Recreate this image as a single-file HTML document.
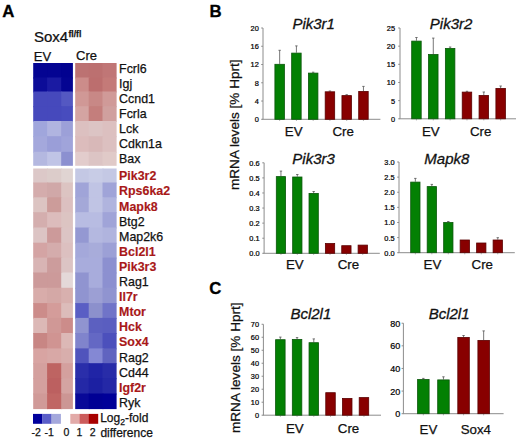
<!DOCTYPE html><html><head><meta charset="utf-8"><style>
html,body{margin:0;padding:0;background:#fff;width:520px;height:440px;overflow:hidden}
svg{display:block}
text{font-family:"Liberation Sans", sans-serif;fill:#111;stroke:#111;stroke-width:0.25px}
.tk{font-size:7.4px;text-anchor:end;fill:#000;stroke:#000;stroke-width:0.22px}
.gl{font-size:12.4px;fill:#111}
.gr{font-size:12.4px;font-weight:bold;fill:#a81818;stroke:#a81818;stroke-width:0.15px}
.ttl{font-size:15px;font-style:italic;stroke:#111;stroke-width:0.3px}
.cat{font-size:13.3px}
.pl{font-size:16.8px;font-weight:bold;fill:#000;stroke:#000;stroke-width:0.3px}
</style></head><body>
<svg width="520" height="440" viewBox="0 0 520 440">
<text x="2.2" y="16.8" class="pl">A</text>
<text x="209.6" y="16.6" class="pl">B</text>
<text x="209.3" y="294.2" class="pl">C</text>
<text transform="translate(33.9,41.6) scale(1.075,1)" style="font-size:14px">Sox4</text>
<text x="68.4" y="37.3" style="font-size:8.6px;font-weight:bold">fl/fl</text>
<text x="33.8" y="61.2" style="font-size:13px">EV</text>
<text x="76" y="60.3" style="font-size:13px">Cre</text>
<rect x="33.2" y="63" width="14.9" height="15.5" fill="#040492"/>
<rect x="47.1" y="63" width="15.1" height="15.5" fill="#040492"/>
<rect x="61.2" y="63" width="11.7" height="15.5" fill="#020290"/>
<rect x="75.2" y="63" width="14.5" height="15.5" fill="#bc7272"/>
<rect x="88.7" y="63" width="14.8" height="15.5" fill="#bc7070"/>
<rect x="102.5" y="63" width="14.1" height="15.5" fill="#c07676"/>
<rect x="33.2" y="77.5" width="14.9" height="15" fill="#0c0c98"/>
<rect x="47.1" y="77.5" width="15.1" height="15" fill="#1a1aa2"/>
<rect x="61.2" y="77.5" width="11.7" height="15" fill="#040492"/>
<rect x="75.2" y="77.5" width="14.5" height="15" fill="#cc8c8a"/>
<rect x="88.7" y="77.5" width="14.8" height="15" fill="#bc6e6e"/>
<rect x="102.5" y="77.5" width="14.1" height="15" fill="#c47a78"/>
<rect x="33.2" y="91.5" width="14.9" height="15.7" fill="#4649bc"/>
<rect x="47.1" y="91.5" width="15.1" height="15.7" fill="#4649bc"/>
<rect x="61.2" y="91.5" width="11.7" height="15.7" fill="#5458c2"/>
<rect x="75.2" y="91.5" width="14.5" height="15.7" fill="#d09896"/>
<rect x="88.7" y="91.5" width="14.8" height="15.7" fill="#c88886"/>
<rect x="102.5" y="91.5" width="14.1" height="15.7" fill="#d09a98"/>
<rect x="33.2" y="106.2" width="14.9" height="15.8" fill="#4649bc"/>
<rect x="47.1" y="106.2" width="15.1" height="15.8" fill="#4649bc"/>
<rect x="61.2" y="106.2" width="11.7" height="15.8" fill="#484cbe"/>
<rect x="75.2" y="106.2" width="14.5" height="15.8" fill="#d4a4a2"/>
<rect x="88.7" y="106.2" width="14.8" height="15.8" fill="#c47e7c"/>
<rect x="102.5" y="106.2" width="14.1" height="15.8" fill="#d0a09e"/>
<rect x="33.2" y="121" width="14.9" height="16.2" fill="#a0a6dc"/>
<rect x="47.1" y="121" width="15.1" height="16.2" fill="#b0b4e0"/>
<rect x="61.2" y="121" width="11.7" height="16.2" fill="#9ca0d8"/>
<rect x="75.2" y="121" width="14.5" height="16.2" fill="#dcc0c0"/>
<rect x="88.7" y="121" width="14.8" height="16.2" fill="#dcc4c4"/>
<rect x="102.5" y="121" width="14.1" height="16.2" fill="#dcc0c0"/>
<rect x="33.2" y="136.2" width="14.9" height="16.6" fill="#a4a8dc"/>
<rect x="47.1" y="136.2" width="15.1" height="16.6" fill="#9a9ed8"/>
<rect x="61.2" y="136.2" width="11.7" height="16.6" fill="#a0a4da"/>
<rect x="75.2" y="136.2" width="14.5" height="16.6" fill="#dcbcbc"/>
<rect x="88.7" y="136.2" width="14.8" height="16.6" fill="#d8b8b8"/>
<rect x="102.5" y="136.2" width="14.1" height="16.6" fill="#dcc0c0"/>
<rect x="33.2" y="151.8" width="14.9" height="14" fill="#b4b8e0"/>
<rect x="47.1" y="151.8" width="15.1" height="14" fill="#c0c4e6"/>
<rect x="61.2" y="151.8" width="11.7" height="14" fill="#8c90d0"/>
<rect x="75.2" y="151.8" width="14.5" height="14" fill="#e2cccc"/>
<rect x="88.7" y="151.8" width="14.8" height="14" fill="#dcc4c4"/>
<rect x="102.5" y="151.8" width="14.1" height="14" fill="#e0cac8"/>
<rect x="33.2" y="168.5" width="14.9" height="15" fill="#dcc8c8"/>
<rect x="47.1" y="168.5" width="15.1" height="15" fill="#dcccca"/>
<rect x="61.2" y="168.5" width="11.7" height="15" fill="#e0d4d2"/>
<rect x="75.2" y="168.5" width="14.5" height="15" fill="#c4c8e4"/>
<rect x="88.7" y="168.5" width="14.8" height="15" fill="#c8cce6"/>
<rect x="102.5" y="168.5" width="14.1" height="15" fill="#c4c8e4"/>
<rect x="33.2" y="182.5" width="14.9" height="15.8" fill="#d4acac"/>
<rect x="47.1" y="182.5" width="15.1" height="15.8" fill="#d0a8a8"/>
<rect x="61.2" y="182.5" width="11.7" height="15.8" fill="#dcc4c2"/>
<rect x="75.2" y="182.5" width="14.5" height="15.8" fill="#a0a4d8"/>
<rect x="88.7" y="182.5" width="14.8" height="15.8" fill="#c0c4e4"/>
<rect x="102.5" y="182.5" width="14.1" height="15.8" fill="#a0a4d8"/>
<rect x="33.2" y="197.3" width="14.9" height="15.9" fill="#dcc4c2"/>
<rect x="47.1" y="197.3" width="15.1" height="15.9" fill="#cc9c9a"/>
<rect x="61.2" y="197.3" width="11.7" height="15.9" fill="#dcc0c0"/>
<rect x="75.2" y="197.3" width="14.5" height="15.9" fill="#a4a8d8"/>
<rect x="88.7" y="197.3" width="14.8" height="15.9" fill="#c0c4e4"/>
<rect x="102.5" y="197.3" width="14.1" height="15.9" fill="#b0b4de"/>
<rect x="33.2" y="212.2" width="14.9" height="16.3" fill="#d4aeae"/>
<rect x="47.1" y="212.2" width="15.1" height="16.3" fill="#dcbcbc"/>
<rect x="61.2" y="212.2" width="11.7" height="16.3" fill="#dcc4c2"/>
<rect x="75.2" y="212.2" width="14.5" height="16.3" fill="#b8bce2"/>
<rect x="88.7" y="212.2" width="14.8" height="16.3" fill="#b8bce2"/>
<rect x="102.5" y="212.2" width="14.1" height="16.3" fill="#a0a4d8"/>
<rect x="33.2" y="227.5" width="14.9" height="16.2" fill="#dcc4c4"/>
<rect x="47.1" y="227.5" width="15.1" height="16.2" fill="#cc9a9a"/>
<rect x="61.2" y="227.5" width="11.7" height="16.2" fill="#dcc4c4"/>
<rect x="75.2" y="227.5" width="14.5" height="16.2" fill="#9498d2"/>
<rect x="88.7" y="227.5" width="14.8" height="16.2" fill="#b4b8e0"/>
<rect x="102.5" y="227.5" width="14.1" height="16.2" fill="#b0b4de"/>
<rect x="33.2" y="242.7" width="14.9" height="15.9" fill="#d4a4a4"/>
<rect x="47.1" y="242.7" width="15.1" height="15.9" fill="#d4acac"/>
<rect x="61.2" y="242.7" width="11.7" height="15.9" fill="#dcc0c0"/>
<rect x="75.2" y="242.7" width="14.5" height="15.9" fill="#a4a8da"/>
<rect x="88.7" y="242.7" width="14.8" height="15.9" fill="#a8acda"/>
<rect x="102.5" y="242.7" width="14.1" height="15.9" fill="#9ca0d6"/>
<rect x="33.2" y="257.6" width="14.9" height="15.9" fill="#d8b4b4"/>
<rect x="47.1" y="257.6" width="15.1" height="15.9" fill="#cc9c9c"/>
<rect x="61.2" y="257.6" width="11.7" height="15.9" fill="#dcc4c4"/>
<rect x="75.2" y="257.6" width="14.5" height="15.9" fill="#a8acdc"/>
<rect x="88.7" y="257.6" width="14.8" height="15.9" fill="#a8acdc"/>
<rect x="102.5" y="257.6" width="14.1" height="15.9" fill="#8c90d0"/>
<rect x="33.2" y="272.5" width="14.9" height="16.3" fill="#cc9a9a"/>
<rect x="47.1" y="272.5" width="15.1" height="16.3" fill="#cc9a9a"/>
<rect x="61.2" y="272.5" width="11.7" height="16.3" fill="#e4d8d8"/>
<rect x="75.2" y="272.5" width="14.5" height="16.3" fill="#9094d0"/>
<rect x="88.7" y="272.5" width="14.8" height="16.3" fill="#a8acdc"/>
<rect x="102.5" y="272.5" width="14.1" height="16.3" fill="#8c90d0"/>
<rect x="33.2" y="287.8" width="14.9" height="16.3" fill="#d8acaa"/>
<rect x="47.1" y="287.8" width="15.1" height="16.3" fill="#d4a8a6"/>
<rect x="61.2" y="287.8" width="11.7" height="16.3" fill="#d8b0ae"/>
<rect x="75.2" y="287.8" width="14.5" height="16.3" fill="#9094d0"/>
<rect x="88.7" y="287.8" width="14.8" height="16.3" fill="#9c9fd4"/>
<rect x="102.5" y="287.8" width="14.1" height="16.3" fill="#9094d0"/>
<rect x="33.2" y="303.1" width="14.9" height="15.8" fill="#cc8c8a"/>
<rect x="47.1" y="303.1" width="15.1" height="15.8" fill="#d49c9a"/>
<rect x="61.2" y="303.1" width="11.7" height="15.8" fill="#dcbcba"/>
<rect x="75.2" y="303.1" width="14.5" height="15.8" fill="#5a5ec4"/>
<rect x="88.7" y="303.1" width="14.8" height="15.8" fill="#8c90cc"/>
<rect x="102.5" y="303.1" width="14.1" height="15.8" fill="#7074c8"/>
<rect x="33.2" y="317.9" width="14.9" height="16.1" fill="#dcb8b6"/>
<rect x="47.1" y="317.9" width="15.1" height="16.1" fill="#d09896"/>
<rect x="61.2" y="317.9" width="11.7" height="16.1" fill="#cc8c8a"/>
<rect x="75.2" y="317.9" width="14.5" height="16.1" fill="#9094d0"/>
<rect x="88.7" y="317.9" width="14.8" height="16.1" fill="#5c60c0"/>
<rect x="102.5" y="317.9" width="14.1" height="16.1" fill="#5a5ec0"/>
<rect x="33.2" y="333" width="14.9" height="16.4" fill="#c88684"/>
<rect x="47.1" y="333" width="15.1" height="16.4" fill="#d09492"/>
<rect x="61.2" y="333" width="11.7" height="16.4" fill="#dcb8b6"/>
<rect x="75.2" y="333" width="14.5" height="16.4" fill="#8084cc"/>
<rect x="88.7" y="333" width="14.8" height="16.4" fill="#6468c4"/>
<rect x="102.5" y="333" width="14.1" height="16.4" fill="#4c50bc"/>
<rect x="33.2" y="348.4" width="14.9" height="15.8" fill="#d8a4a2"/>
<rect x="47.1" y="348.4" width="15.1" height="15.8" fill="#d8a8a6"/>
<rect x="61.2" y="348.4" width="11.7" height="15.8" fill="#d8aeac"/>
<rect x="75.2" y="348.4" width="14.5" height="15.8" fill="#5054bc"/>
<rect x="88.7" y="348.4" width="14.8" height="15.8" fill="#8488d4"/>
<rect x="102.5" y="348.4" width="14.1" height="15.8" fill="#6064c0"/>
<rect x="33.2" y="363.2" width="14.9" height="16" fill="#d4a09e"/>
<rect x="47.1" y="363.2" width="15.1" height="16" fill="#be6462"/>
<rect x="61.2" y="363.2" width="11.7" height="16" fill="#d4a09e"/>
<rect x="75.2" y="363.2" width="14.5" height="16" fill="#2a2eaa"/>
<rect x="88.7" y="363.2" width="14.8" height="16" fill="#2024a6"/>
<rect x="102.5" y="363.2" width="14.1" height="16" fill="#282ca8"/>
<rect x="33.2" y="378.2" width="14.9" height="16.3" fill="#d4a09e"/>
<rect x="47.1" y="378.2" width="15.1" height="16.3" fill="#bc6060"/>
<rect x="61.2" y="378.2" width="11.7" height="16.3" fill="#d4a4a2"/>
<rect x="75.2" y="378.2" width="14.5" height="16.3" fill="#2428a6"/>
<rect x="88.7" y="378.2" width="14.8" height="16.3" fill="#1c20a2"/>
<rect x="102.5" y="378.2" width="14.1" height="16.3" fill="#2428a6"/>
<rect x="33.2" y="393.5" width="14.9" height="15.6" fill="#d09a98"/>
<rect x="47.1" y="393.5" width="15.1" height="15.6" fill="#c06664"/>
<rect x="61.2" y="393.5" width="11.7" height="15.6" fill="#cc9694"/>
<rect x="75.2" y="393.5" width="14.5" height="15.6" fill="#080898"/>
<rect x="88.7" y="393.5" width="14.8" height="15.6" fill="#000094"/>
<rect x="102.5" y="393.5" width="14.1" height="15.6" fill="#000098"/>
<text x="119.1" y="72.7" class="gl">Fcrl6</text>
<text x="119.1" y="87.75" class="gl">Igj</text>
<text x="119.1" y="102.8" class="gl">Ccnd1</text>
<text x="119.1" y="117.85" class="gl">Fcrla</text>
<text x="119.1" y="132.9" class="gl">Lck</text>
<text x="119.1" y="147.95" class="gl">Cdkn1a</text>
<text x="119.1" y="163" class="gl">Bax</text>
<text x="119.1" y="180.3" class="gr">Pik3r2</text>
<text x="119.1" y="195.4" class="gr">Rps6ka2</text>
<text x="119.1" y="210.5" class="gr">Mapk8</text>
<text x="119.1" y="225.6" class="gl">Btg2</text>
<text x="119.1" y="240.7" class="gl">Map2k6</text>
<text x="119.1" y="255.8" class="gr">Bcl2l1</text>
<text x="119.1" y="270.9" class="gr">Pik3r3</text>
<text x="119.1" y="286" class="gl">Rag1</text>
<text x="119.1" y="301.1" class="gr">Il7r</text>
<text x="119.1" y="316.2" class="gr">Mtor</text>
<text x="119.1" y="331.3" class="gr">Hck</text>
<text x="119.1" y="346.4" class="gr">Sox4</text>
<text x="119.1" y="361.5" class="gl">Rag2</text>
<text x="119.1" y="376.6" class="gl">Cd44</text>
<text x="119.1" y="391.7" class="gr">Igf2r</text>
<text x="119.1" y="406.8" class="gl">Ryk</text>
<rect x="33" y="413.9" width="9.4" height="9.9" fill="#00009c"/>
<rect x="42.2" y="413.9" width="9.5" height="9.9" fill="#5a5ec8"/>
<rect x="51.5" y="413.9" width="9.4" height="9.9" fill="#a4a8dc"/>
<rect x="70.3" y="413.9" width="9.4" height="9.9" fill="#e2aaa8"/>
<rect x="79.5" y="413.9" width="9.5" height="9.9" fill="#cc5c5c"/>
<rect x="88.8" y="413.9" width="9.4" height="9.9" fill="#a80000"/>
<text x="31.6" y="435.8" style="font-size:10.5px">-2</text>
<text x="44.6" y="435.8" style="font-size:10.5px">-1</text>
<text x="63.6" y="435.8" style="font-size:10.5px">0</text>
<text x="76.6" y="435.8" style="font-size:10.5px">1</text>
<text x="89.8" y="435.8" style="font-size:10.5px">2</text>
<text x="100.2" y="422.3" style="font-size:12px">Log<tspan style="font-size:8.6px" dy="2.9">2</tspan><tspan dy="-2.9">-fold</tspan></text>
<text x="100.4" y="436.5" style="font-size:12px">difference</text>
<text transform="translate(239.1,124.7) rotate(-90)" text-anchor="middle" style="font-size:13.6px">mRNA levels [% Hprt]</text>
<text transform="translate(239.8,367.7) rotate(-90)" text-anchor="middle" style="font-size:13.6px">mRNA levels [% Hprt]</text>
<line x1="263" y1="28" x2="263" y2="119.3" stroke="#8c8c8c" stroke-width="1"/>
<line x1="262.5" y1="119.3" x2="380.4" y2="119.3" stroke="#8c8c8c" stroke-width="1"/>
<line x1="261.2" y1="119.3" x2="263" y2="119.3" stroke="#8c8c8c" stroke-width="1"/>
<text x="258.8" y="122.26" class="tk" style="font-size:7.4px">0</text>
<line x1="261.2" y1="101.04" x2="263" y2="101.04" stroke="#8c8c8c" stroke-width="1"/>
<text x="258.8" y="104" class="tk" style="font-size:7.4px">4</text>
<line x1="261.2" y1="82.78" x2="263" y2="82.78" stroke="#8c8c8c" stroke-width="1"/>
<text x="258.8" y="85.74" class="tk" style="font-size:7.4px">8</text>
<line x1="261.2" y1="64.52" x2="263" y2="64.52" stroke="#8c8c8c" stroke-width="1"/>
<text x="258.8" y="67.48" class="tk" style="font-size:7.4px">12</text>
<line x1="261.2" y1="46.26" x2="263" y2="46.26" stroke="#8c8c8c" stroke-width="1"/>
<text x="258.8" y="49.22" class="tk" style="font-size:7.4px">16</text>
<line x1="261.2" y1="28" x2="263" y2="28" stroke="#8c8c8c" stroke-width="1"/>
<text x="258.8" y="30.96" class="tk" style="font-size:7.4px">20</text>
<line x1="279.65" y1="50.3" x2="279.65" y2="63.9" stroke="#555" stroke-width="0.8"/>
<line x1="278.45" y1="50.3" x2="280.85" y2="50.3" stroke="#555" stroke-width="0.8"/>
<line x1="279.65" y1="119.3" x2="279.65" y2="120.9" stroke="#999" stroke-width="0.8"/>
<rect x="274.9" y="64.3" width="9.5" height="55" fill="#038003" stroke="#0b560b" stroke-width="0.8"/>
<line x1="296.41" y1="45.9" x2="296.41" y2="52.7" stroke="#555" stroke-width="0.8"/>
<line x1="295.21" y1="45.9" x2="297.61" y2="45.9" stroke="#555" stroke-width="0.8"/>
<line x1="296.41" y1="119.3" x2="296.41" y2="120.9" stroke="#999" stroke-width="0.8"/>
<rect x="291.66" y="53.1" width="9.5" height="66.2" fill="#038003" stroke="#0b560b" stroke-width="0.8"/>
<line x1="313.17" y1="72.2" x2="313.17" y2="72.7" stroke="#555" stroke-width="0.8"/>
<line x1="311.97" y1="72.2" x2="314.37" y2="72.2" stroke="#555" stroke-width="0.8"/>
<line x1="313.17" y1="119.3" x2="313.17" y2="120.9" stroke="#999" stroke-width="0.8"/>
<rect x="308.42" y="73.1" width="9.5" height="46.2" fill="#038003" stroke="#0b560b" stroke-width="0.8"/>
<line x1="329.93" y1="91" x2="329.93" y2="91.4" stroke="#555" stroke-width="0.8"/>
<line x1="328.73" y1="91" x2="331.13" y2="91" stroke="#555" stroke-width="0.8"/>
<line x1="329.93" y1="119.3" x2="329.93" y2="120.9" stroke="#999" stroke-width="0.8"/>
<rect x="325.18" y="91.8" width="9.5" height="27.5" fill="#880000" stroke="#5a0000" stroke-width="0.8"/>
<line x1="346.69" y1="94.7" x2="346.69" y2="95.2" stroke="#555" stroke-width="0.8"/>
<line x1="345.49" y1="94.7" x2="347.89" y2="94.7" stroke="#555" stroke-width="0.8"/>
<line x1="346.69" y1="119.3" x2="346.69" y2="120.9" stroke="#999" stroke-width="0.8"/>
<rect x="341.94" y="95.6" width="9.5" height="23.7" fill="#880000" stroke="#5a0000" stroke-width="0.8"/>
<line x1="363.45" y1="86.4" x2="363.45" y2="91" stroke="#555" stroke-width="0.8"/>
<line x1="362.25" y1="86.4" x2="364.65" y2="86.4" stroke="#555" stroke-width="0.8"/>
<line x1="363.45" y1="119.3" x2="363.45" y2="120.9" stroke="#999" stroke-width="0.8"/>
<rect x="358.7" y="91.4" width="9.5" height="27.9" fill="#880000" stroke="#5a0000" stroke-width="0.8"/>
<text x="292.4" y="29.2" class="ttl">Pik3r1</text>
<text x="284.8" y="135.6" class="cat">EV</text>
<text x="332.5" y="135.6" class="cat">Cre</text>
<line x1="400" y1="28" x2="400" y2="118.8" stroke="#8c8c8c" stroke-width="1"/>
<line x1="399.5" y1="118.8" x2="516" y2="118.8" stroke="#8c8c8c" stroke-width="1"/>
<line x1="398.2" y1="118.8" x2="400" y2="118.8" stroke="#8c8c8c" stroke-width="1"/>
<text x="395" y="121.76" class="tk" style="font-size:7.4px">0</text>
<line x1="398.2" y1="100.64" x2="400" y2="100.64" stroke="#8c8c8c" stroke-width="1"/>
<text x="395" y="103.6" class="tk" style="font-size:7.4px">5</text>
<line x1="398.2" y1="82.48" x2="400" y2="82.48" stroke="#8c8c8c" stroke-width="1"/>
<text x="395" y="85.44" class="tk" style="font-size:7.4px">10</text>
<line x1="398.2" y1="64.32" x2="400" y2="64.32" stroke="#8c8c8c" stroke-width="1"/>
<text x="395" y="67.28" class="tk" style="font-size:7.4px">15</text>
<line x1="398.2" y1="46.16" x2="400" y2="46.16" stroke="#8c8c8c" stroke-width="1"/>
<text x="395" y="49.12" class="tk" style="font-size:7.4px">20</text>
<line x1="398.2" y1="28" x2="400" y2="28" stroke="#8c8c8c" stroke-width="1"/>
<text x="395" y="30.96" class="tk" style="font-size:7.4px">25</text>
<line x1="416.45" y1="37.5" x2="416.45" y2="40.7" stroke="#555" stroke-width="0.8"/>
<line x1="415.25" y1="37.5" x2="417.65" y2="37.5" stroke="#555" stroke-width="0.8"/>
<line x1="416.45" y1="118.8" x2="416.45" y2="120.4" stroke="#999" stroke-width="0.8"/>
<rect x="411.7" y="41.1" width="9.5" height="77.7" fill="#038003" stroke="#0b560b" stroke-width="0.8"/>
<line x1="433.29" y1="38.1" x2="433.29" y2="54.1" stroke="#555" stroke-width="0.8"/>
<line x1="432.09" y1="38.1" x2="434.49" y2="38.1" stroke="#555" stroke-width="0.8"/>
<line x1="433.29" y1="118.8" x2="433.29" y2="120.4" stroke="#999" stroke-width="0.8"/>
<rect x="428.54" y="54.5" width="9.5" height="64.3" fill="#038003" stroke="#0b560b" stroke-width="0.8"/>
<line x1="450.13" y1="47" x2="450.13" y2="48" stroke="#555" stroke-width="0.8"/>
<line x1="448.93" y1="47" x2="451.33" y2="47" stroke="#555" stroke-width="0.8"/>
<line x1="450.13" y1="118.8" x2="450.13" y2="120.4" stroke="#999" stroke-width="0.8"/>
<rect x="445.38" y="48.4" width="9.5" height="70.4" fill="#038003" stroke="#0b560b" stroke-width="0.8"/>
<line x1="466.97" y1="91.3" x2="466.97" y2="91.7" stroke="#555" stroke-width="0.8"/>
<line x1="465.77" y1="91.3" x2="468.17" y2="91.3" stroke="#555" stroke-width="0.8"/>
<line x1="466.97" y1="118.8" x2="466.97" y2="120.4" stroke="#999" stroke-width="0.8"/>
<rect x="462.22" y="92.1" width="9.5" height="26.7" fill="#880000" stroke="#5a0000" stroke-width="0.8"/>
<line x1="483.81" y1="92" x2="483.81" y2="95" stroke="#555" stroke-width="0.8"/>
<line x1="482.61" y1="92" x2="485.01" y2="92" stroke="#555" stroke-width="0.8"/>
<line x1="483.81" y1="118.8" x2="483.81" y2="120.4" stroke="#999" stroke-width="0.8"/>
<rect x="479.06" y="95.4" width="9.5" height="23.4" fill="#880000" stroke="#5a0000" stroke-width="0.8"/>
<line x1="500.65" y1="86" x2="500.65" y2="88" stroke="#555" stroke-width="0.8"/>
<line x1="499.45" y1="86" x2="501.85" y2="86" stroke="#555" stroke-width="0.8"/>
<line x1="500.65" y1="118.8" x2="500.65" y2="120.4" stroke="#999" stroke-width="0.8"/>
<rect x="495.9" y="88.4" width="9.5" height="30.4" fill="#880000" stroke="#5a0000" stroke-width="0.8"/>
<text x="429.8" y="29.2" class="ttl">Pik3r2</text>
<text x="421.9" y="135.6" class="cat">EV</text>
<text x="469.9" y="135.6" class="cat">Cre</text>
<line x1="264.1" y1="162.8" x2="264.1" y2="253.3" stroke="#8c8c8c" stroke-width="1"/>
<line x1="263.6" y1="253.3" x2="379.8" y2="253.3" stroke="#8c8c8c" stroke-width="1"/>
<line x1="262.3" y1="253.3" x2="264.1" y2="253.3" stroke="#8c8c8c" stroke-width="1"/>
<text x="259.6" y="256.26" class="tk" style="font-size:7.4px">0.0</text>
<line x1="262.3" y1="238.22" x2="264.1" y2="238.22" stroke="#8c8c8c" stroke-width="1"/>
<text x="259.6" y="241.18" class="tk" style="font-size:7.4px">0.1</text>
<line x1="262.3" y1="223.14" x2="264.1" y2="223.14" stroke="#8c8c8c" stroke-width="1"/>
<text x="259.6" y="226.1" class="tk" style="font-size:7.4px">0.2</text>
<line x1="262.3" y1="208.06" x2="264.1" y2="208.06" stroke="#8c8c8c" stroke-width="1"/>
<text x="259.6" y="211.02" class="tk" style="font-size:7.4px">0.3</text>
<line x1="262.3" y1="192.98" x2="264.1" y2="192.98" stroke="#8c8c8c" stroke-width="1"/>
<text x="259.6" y="195.94" class="tk" style="font-size:7.4px">0.4</text>
<line x1="262.3" y1="177.9" x2="264.1" y2="177.9" stroke="#8c8c8c" stroke-width="1"/>
<text x="259.6" y="180.86" class="tk" style="font-size:7.4px">0.5</text>
<line x1="262.3" y1="162.82" x2="264.1" y2="162.82" stroke="#8c8c8c" stroke-width="1"/>
<text x="259.6" y="165.78" class="tk" style="font-size:7.4px">0.6</text>
<line x1="280.95" y1="171.1" x2="280.95" y2="176.2" stroke="#555" stroke-width="0.8"/>
<line x1="279.75" y1="171.1" x2="282.15" y2="171.1" stroke="#555" stroke-width="0.8"/>
<line x1="280.95" y1="253.3" x2="280.95" y2="254.9" stroke="#999" stroke-width="0.8"/>
<rect x="276.3" y="176.6" width="9.3" height="76.7" fill="#038003" stroke="#0b560b" stroke-width="0.8"/>
<line x1="297.31" y1="174.5" x2="297.31" y2="176.6" stroke="#555" stroke-width="0.8"/>
<line x1="296.11" y1="174.5" x2="298.51" y2="174.5" stroke="#555" stroke-width="0.8"/>
<line x1="297.31" y1="253.3" x2="297.31" y2="254.9" stroke="#999" stroke-width="0.8"/>
<rect x="292.66" y="177" width="9.3" height="76.3" fill="#038003" stroke="#0b560b" stroke-width="0.8"/>
<line x1="313.67" y1="191.5" x2="313.67" y2="193" stroke="#555" stroke-width="0.8"/>
<line x1="312.47" y1="191.5" x2="314.87" y2="191.5" stroke="#555" stroke-width="0.8"/>
<line x1="313.67" y1="253.3" x2="313.67" y2="254.9" stroke="#999" stroke-width="0.8"/>
<rect x="309.02" y="193.4" width="9.3" height="59.9" fill="#038003" stroke="#0b560b" stroke-width="0.8"/>
<line x1="330.03" y1="253.3" x2="330.03" y2="254.9" stroke="#999" stroke-width="0.8"/>
<rect x="325.38" y="243.5" width="9.3" height="9.8" fill="#880000" stroke="#5a0000" stroke-width="0.8"/>
<line x1="346.39" y1="253.3" x2="346.39" y2="254.9" stroke="#999" stroke-width="0.8"/>
<rect x="341.74" y="245.7" width="9.3" height="7.6" fill="#880000" stroke="#5a0000" stroke-width="0.8"/>
<line x1="362.75" y1="253.3" x2="362.75" y2="254.9" stroke="#999" stroke-width="0.8"/>
<rect x="358.1" y="245.1" width="9.3" height="8.2" fill="#880000" stroke="#5a0000" stroke-width="0.8"/>
<text x="292.3" y="164.4" class="ttl">Pik3r3</text>
<text x="286" y="269.4" class="cat">EV</text>
<text x="337.7" y="269.4" class="cat">Cre</text>
<line x1="399" y1="162" x2="399" y2="252.7" stroke="#8c8c8c" stroke-width="1"/>
<line x1="398.5" y1="252.7" x2="514.8" y2="252.7" stroke="#8c8c8c" stroke-width="1"/>
<line x1="397.2" y1="252.7" x2="399" y2="252.7" stroke="#8c8c8c" stroke-width="1"/>
<text x="394.6" y="255.66" class="tk" style="font-size:7.4px">0.0</text>
<line x1="397.2" y1="237.58" x2="399" y2="237.58" stroke="#8c8c8c" stroke-width="1"/>
<text x="394.6" y="240.54" class="tk" style="font-size:7.4px">0.5</text>
<line x1="397.2" y1="222.47" x2="399" y2="222.47" stroke="#8c8c8c" stroke-width="1"/>
<text x="394.6" y="225.43" class="tk" style="font-size:7.4px">1.0</text>
<line x1="397.2" y1="207.35" x2="399" y2="207.35" stroke="#8c8c8c" stroke-width="1"/>
<text x="394.6" y="210.31" class="tk" style="font-size:7.4px">1.5</text>
<line x1="397.2" y1="192.24" x2="399" y2="192.24" stroke="#8c8c8c" stroke-width="1"/>
<text x="394.6" y="195.2" class="tk" style="font-size:7.4px">2.0</text>
<line x1="397.2" y1="177.12" x2="399" y2="177.12" stroke="#8c8c8c" stroke-width="1"/>
<text x="394.6" y="180.09" class="tk" style="font-size:7.4px">2.5</text>
<line x1="397.2" y1="162.01" x2="399" y2="162.01" stroke="#8c8c8c" stroke-width="1"/>
<text x="394.6" y="164.97" class="tk" style="font-size:7.4px">3.0</text>
<line x1="415.35" y1="178.4" x2="415.35" y2="181.7" stroke="#555" stroke-width="0.8"/>
<line x1="414.15" y1="178.4" x2="416.55" y2="178.4" stroke="#555" stroke-width="0.8"/>
<line x1="415.35" y1="252.7" x2="415.35" y2="254.3" stroke="#999" stroke-width="0.8"/>
<rect x="410.7" y="182.1" width="9.3" height="70.6" fill="#038003" stroke="#0b560b" stroke-width="0.8"/>
<line x1="431.83" y1="184.4" x2="431.83" y2="186.2" stroke="#555" stroke-width="0.8"/>
<line x1="430.63" y1="184.4" x2="433.03" y2="184.4" stroke="#555" stroke-width="0.8"/>
<line x1="431.83" y1="252.7" x2="431.83" y2="254.3" stroke="#999" stroke-width="0.8"/>
<rect x="427.18" y="186.6" width="9.3" height="66.1" fill="#038003" stroke="#0b560b" stroke-width="0.8"/>
<line x1="448.31" y1="221.5" x2="448.31" y2="222.1" stroke="#555" stroke-width="0.8"/>
<line x1="447.11" y1="221.5" x2="449.51" y2="221.5" stroke="#555" stroke-width="0.8"/>
<line x1="448.31" y1="252.7" x2="448.31" y2="254.3" stroke="#999" stroke-width="0.8"/>
<rect x="443.66" y="222.5" width="9.3" height="30.2" fill="#038003" stroke="#0b560b" stroke-width="0.8"/>
<line x1="464.79" y1="252.7" x2="464.79" y2="254.3" stroke="#999" stroke-width="0.8"/>
<rect x="460.14" y="240" width="9.3" height="12.7" fill="#880000" stroke="#5a0000" stroke-width="0.8"/>
<line x1="481.27" y1="252.7" x2="481.27" y2="254.3" stroke="#999" stroke-width="0.8"/>
<rect x="476.62" y="243" width="9.3" height="9.7" fill="#880000" stroke="#5a0000" stroke-width="0.8"/>
<line x1="497.75" y1="237.7" x2="497.75" y2="239.6" stroke="#555" stroke-width="0.8"/>
<line x1="496.55" y1="237.7" x2="498.95" y2="237.7" stroke="#555" stroke-width="0.8"/>
<line x1="497.75" y1="252.7" x2="497.75" y2="254.3" stroke="#999" stroke-width="0.8"/>
<rect x="493.1" y="240" width="9.3" height="12.7" fill="#880000" stroke="#5a0000" stroke-width="0.8"/>
<text x="424.3" y="164.2" class="ttl">Mapk8</text>
<text x="423.6" y="269.4" class="cat">EV</text>
<text x="471.6" y="269.4" class="cat">Cre</text>
<line x1="263.4" y1="324.3" x2="263.4" y2="415.2" stroke="#8c8c8c" stroke-width="1"/>
<line x1="262.9" y1="415.2" x2="381" y2="415.2" stroke="#8c8c8c" stroke-width="1"/>
<line x1="261.6" y1="415.2" x2="263.4" y2="415.2" stroke="#8c8c8c" stroke-width="1"/>
<text x="259" y="418.16" class="tk" style="font-size:7.4px">0</text>
<line x1="261.6" y1="402.21" x2="263.4" y2="402.21" stroke="#8c8c8c" stroke-width="1"/>
<text x="259" y="405.17" class="tk" style="font-size:7.4px">10</text>
<line x1="261.6" y1="389.22" x2="263.4" y2="389.22" stroke="#8c8c8c" stroke-width="1"/>
<text x="259" y="392.18" class="tk" style="font-size:7.4px">20</text>
<line x1="261.6" y1="376.23" x2="263.4" y2="376.23" stroke="#8c8c8c" stroke-width="1"/>
<text x="259" y="379.19" class="tk" style="font-size:7.4px">30</text>
<line x1="261.6" y1="363.24" x2="263.4" y2="363.24" stroke="#8c8c8c" stroke-width="1"/>
<text x="259" y="366.2" class="tk" style="font-size:7.4px">40</text>
<line x1="261.6" y1="350.25" x2="263.4" y2="350.25" stroke="#8c8c8c" stroke-width="1"/>
<text x="259" y="353.21" class="tk" style="font-size:7.4px">50</text>
<line x1="261.6" y1="337.26" x2="263.4" y2="337.26" stroke="#8c8c8c" stroke-width="1"/>
<text x="259" y="340.22" class="tk" style="font-size:7.4px">60</text>
<line x1="261.6" y1="324.27" x2="263.4" y2="324.27" stroke="#8c8c8c" stroke-width="1"/>
<text x="259" y="327.23" class="tk" style="font-size:7.4px">70</text>
<line x1="280.35" y1="337.1" x2="280.35" y2="339.3" stroke="#555" stroke-width="0.8"/>
<line x1="279.15" y1="337.1" x2="281.55" y2="337.1" stroke="#555" stroke-width="0.8"/>
<line x1="280.35" y1="415.2" x2="280.35" y2="416.8" stroke="#999" stroke-width="0.8"/>
<rect x="275.6" y="339.7" width="9.5" height="75.5" fill="#038003" stroke="#0b560b" stroke-width="0.8"/>
<line x1="297.07" y1="337.6" x2="297.07" y2="339" stroke="#555" stroke-width="0.8"/>
<line x1="295.87" y1="337.6" x2="298.27" y2="337.6" stroke="#555" stroke-width="0.8"/>
<line x1="297.07" y1="415.2" x2="297.07" y2="416.8" stroke="#999" stroke-width="0.8"/>
<rect x="292.32" y="339.4" width="9.5" height="75.8" fill="#038003" stroke="#0b560b" stroke-width="0.8"/>
<line x1="313.79" y1="338.9" x2="313.79" y2="342.3" stroke="#555" stroke-width="0.8"/>
<line x1="312.59" y1="338.9" x2="314.99" y2="338.9" stroke="#555" stroke-width="0.8"/>
<line x1="313.79" y1="415.2" x2="313.79" y2="416.8" stroke="#999" stroke-width="0.8"/>
<rect x="309.04" y="342.7" width="9.5" height="72.5" fill="#038003" stroke="#0b560b" stroke-width="0.8"/>
<line x1="330.51" y1="415.2" x2="330.51" y2="416.8" stroke="#999" stroke-width="0.8"/>
<rect x="325.76" y="392.7" width="9.5" height="22.5" fill="#880000" stroke="#5a0000" stroke-width="0.8"/>
<line x1="347.23" y1="415.2" x2="347.23" y2="416.8" stroke="#999" stroke-width="0.8"/>
<rect x="342.48" y="398.4" width="9.5" height="16.8" fill="#880000" stroke="#5a0000" stroke-width="0.8"/>
<line x1="363.95" y1="415.2" x2="363.95" y2="416.8" stroke="#999" stroke-width="0.8"/>
<rect x="359.2" y="397.6" width="9.5" height="17.6" fill="#880000" stroke="#5a0000" stroke-width="0.8"/>
<text x="290.4" y="319" class="ttl">Bcl2l1</text>
<text x="285.9" y="433.3" class="cat">EV</text>
<text x="337.8" y="433.3" class="cat">Cre</text>
<line x1="403.4" y1="323.2" x2="403.4" y2="413.7" stroke="#8c8c8c" stroke-width="1"/>
<line x1="402.9" y1="413.7" x2="503.6" y2="413.7" stroke="#8c8c8c" stroke-width="1"/>
<line x1="401.6" y1="413.7" x2="403.4" y2="413.7" stroke="#8c8c8c" stroke-width="1"/>
<text x="400.2" y="417.3" class="tk" style="font-size:9px">0</text>
<line x1="401.6" y1="391.08" x2="403.4" y2="391.08" stroke="#8c8c8c" stroke-width="1"/>
<text x="400.2" y="394.68" class="tk" style="font-size:9px">20</text>
<line x1="401.6" y1="368.46" x2="403.4" y2="368.46" stroke="#8c8c8c" stroke-width="1"/>
<text x="400.2" y="372.06" class="tk" style="font-size:9px">40</text>
<line x1="401.6" y1="345.84" x2="403.4" y2="345.84" stroke="#8c8c8c" stroke-width="1"/>
<text x="400.2" y="349.44" class="tk" style="font-size:9px">60</text>
<line x1="401.6" y1="323.22" x2="403.4" y2="323.22" stroke="#8c8c8c" stroke-width="1"/>
<text x="400.2" y="326.82" class="tk" style="font-size:9px">80</text>
<line x1="423.35" y1="378.4" x2="423.35" y2="379.1" stroke="#555" stroke-width="0.8"/>
<line x1="422.15" y1="378.4" x2="424.55" y2="378.4" stroke="#555" stroke-width="0.8"/>
<line x1="423.35" y1="413.7" x2="423.35" y2="415.3" stroke="#999" stroke-width="0.8"/>
<rect x="417.6" y="379.5" width="11.5" height="34.2" fill="#038003" stroke="#0b560b" stroke-width="0.8"/>
<line x1="443.45" y1="376.8" x2="443.45" y2="379.5" stroke="#555" stroke-width="0.8"/>
<line x1="442.25" y1="376.8" x2="444.65" y2="376.8" stroke="#555" stroke-width="0.8"/>
<line x1="443.45" y1="413.7" x2="443.45" y2="415.3" stroke="#999" stroke-width="0.8"/>
<rect x="437.7" y="379.9" width="11.5" height="33.8" fill="#038003" stroke="#0b560b" stroke-width="0.8"/>
<line x1="463.55" y1="335.5" x2="463.55" y2="337" stroke="#555" stroke-width="0.8"/>
<line x1="462.35" y1="335.5" x2="464.75" y2="335.5" stroke="#555" stroke-width="0.8"/>
<line x1="463.55" y1="413.7" x2="463.55" y2="415.3" stroke="#999" stroke-width="0.8"/>
<rect x="457.8" y="337.4" width="11.5" height="76.3" fill="#880000" stroke="#5a0000" stroke-width="0.8"/>
<line x1="483.65" y1="330.9" x2="483.65" y2="340" stroke="#555" stroke-width="0.8"/>
<line x1="482.45" y1="330.9" x2="484.85" y2="330.9" stroke="#555" stroke-width="0.8"/>
<line x1="483.65" y1="413.7" x2="483.65" y2="415.3" stroke="#999" stroke-width="0.8"/>
<rect x="477.9" y="340.4" width="11.5" height="73.3" fill="#880000" stroke="#5a0000" stroke-width="0.8"/>
<text x="428.7" y="318.8" class="ttl">Bcl2l1</text>
<text x="419.6" y="433.5" class="cat">EV</text>
<text x="460.7" y="433.6" class="cat">Sox4</text>
</svg></body></html>
